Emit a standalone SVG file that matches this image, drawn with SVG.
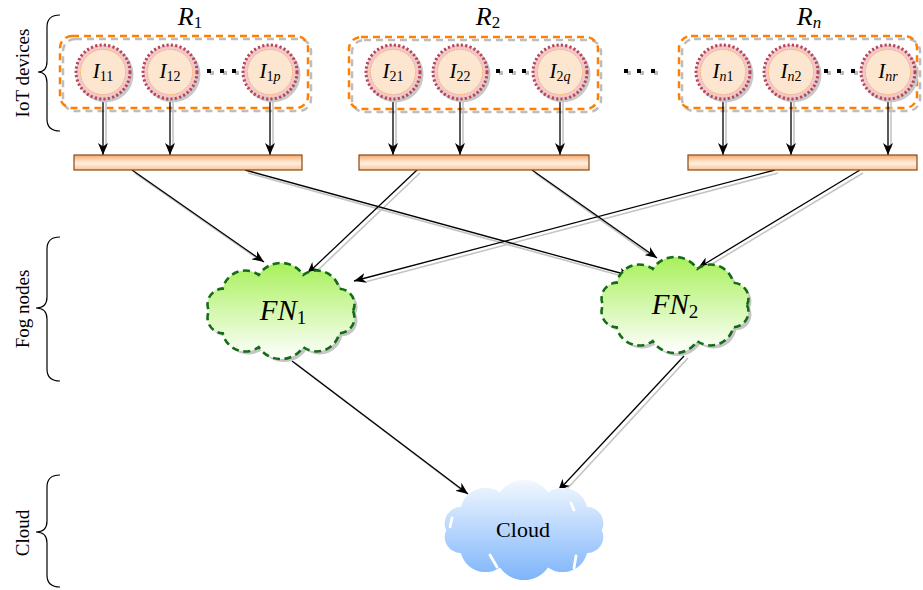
<svg xmlns="http://www.w3.org/2000/svg" xmlns:xlink="http://www.w3.org/1999/xlink" width="923" height="590" viewBox="0 0 923 590">
<defs>
<style>
.lab{font-family:"Liberation Serif","Times New Roman",serif;fill:#000}
.mi{font-style:italic}
.grp{fill:none;stroke:#ff8000;stroke-width:2.5;stroke-dasharray:7 5}
.grps{fill:none;stroke:#bdbdbd;stroke-width:2.5;stroke-dasharray:7 5}
.cout{fill:#f5c6c6;stroke:#b5455a;stroke-width:3;stroke-dasharray:2.2 2.2}
.csh{fill:#c8c8c8}
.cin{fill:#fde6cf;stroke:#e6a030;stroke-width:0.8;stroke-dasharray:1 1.3}
.bar{fill:url(#barg);stroke:#8b4a14;stroke-width:1.2}
.ln{stroke:#000;stroke-width:1.3;fill:none;marker-end:url(#arr)}
.sh{stroke:#c4c4c4;stroke-width:1.6;fill:none}
.fog{fill:url(#fogg);stroke:#156c15;stroke-width:2.6;stroke-dasharray:7 4.5}
.fogs{fill:#c6c6c6}
.br{fill:none;stroke:#000;stroke-width:1.2}
.dot{fill:#000}
.dsh{fill:#bdbdbd}
.gap{stroke:#fff;stroke-width:2.8;fill:none;stroke-linecap:round}
.il{font-size:21px}
.sub{font-size:14px}
</style>
<linearGradient id="barg" x1="0" y1="0" x2="0" y2="1">
<stop offset="0" stop-color="#f8aa6c"/>
<stop offset="0.55" stop-color="#fff0e2"/>
<stop offset="1" stop-color="#fbc294"/>
</linearGradient>
<linearGradient id="fogg" x1="0" y1="0" x2="0" y2="1">
<stop offset="0" stop-color="#a8f05a"/>
<stop offset="1" stop-color="#ffffff"/>
</linearGradient>
<linearGradient id="cloudg" x1="0" y1="0" x2="0" y2="1">
<stop offset="0" stop-color="#f2f8ff"/>
<stop offset="1" stop-color="#7db4fa"/>
</linearGradient>
<marker id="arr" markerUnits="userSpaceOnUse" markerWidth="13" markerHeight="10" refX="12" refY="5" orient="auto">
<path d="M0,0 L12,5 L0,10 L3.5,5 Z" fill="#000"/>
</marker>
<path id="cl" d="M72,0 A15.7,15.7 0 0 1 58.25,22.34 A23.1,23.1 0 0 1 22.25,36.14 A26.7,26.7 0 0 1 -22.25,36.14 A23.1,23.1 0 0 1 -58.25,22.34 A15.7,15.7 0 0 1 -72,0 A15.7,15.7 0 0 1 -58.25,-22.34 A23.1,23.1 0 0 1 -22.25,-36.14 A26.7,26.7 0 0 1 22.25,-36.14 A23.1,23.1 0 0 1 58.25,-22.34 A15.7,15.7 0 0 1 72,0 Z"/>
</defs>
<rect width="923" height="590" fill="#fff"/>

<!-- side labels -->
<g id="side-labels">
<path class="br" d="M60,15 Q47,15 47,27 L47,61 Q47,72 38,72 Q47,72 47,83 L47,119 Q47,131 60,131"/>
<text class="lab" font-size="19" transform="translate(29,73) rotate(-90)" text-anchor="middle">IoT devices</text>
<path class="br" d="M60,237 Q47,237 47,249 L47,297 Q47,308 36,308 Q47,308 47,319 L47,369 Q47,381 60,381"/>
<text class="lab" font-size="19" transform="translate(29,309) rotate(-90)" text-anchor="middle">Fog nodes</text>
<path class="br" d="M60,475 Q47,475 47,487 L47,521 Q47,532 36,532 Q47,532 47,543 L47,575 Q47,587 60,587"/>
<text class="lab" font-size="19" transform="translate(29,533) rotate(-90)" text-anchor="middle">Cloud</text>
</g>

<!-- region groups -->
<g id="R1">
<text class="lab" font-size="26" x="190" y="25" text-anchor="middle"><tspan class="mi">R</tspan><tspan font-size="17" dy="3">1</tspan></text>
<rect class="grps" x="63" y="39" width="248" height="72" rx="12"/>
<rect class="grp" x="60" y="36" width="248" height="72" rx="12"/>
</g>
<g id="R2">
<text class="lab" font-size="26" x="488" y="25" text-anchor="middle"><tspan class="mi">R</tspan><tspan font-size="17" dy="3">2</tspan></text>
<rect class="grps" x="352" y="40" width="249" height="72" rx="12"/>
<rect class="grp" x="349" y="37" width="249" height="72" rx="12"/>
</g>
<g id="Rn">
<text class="lab" font-size="26" x="809" y="25" text-anchor="middle"><tspan class="mi">R</tspan><tspan font-size="17" dy="3" class="mi">n</tspan></text>
<rect class="grps" x="682" y="39" width="238" height="72" rx="12"/>
<rect class="grp" x="679" y="36" width="238" height="72" rx="12"/>
</g>

<!-- ellipsis dots -->
<g id="dots">
<rect class="dsh" x="210" y="71" width="4" height="4"/><rect class="dsh" x="223" y="71" width="4" height="4"/><rect class="dsh" x="235" y="71" width="4" height="4"/>
<rect class="dot" x="207" y="69" width="4" height="4"/><rect class="dot" x="220" y="69" width="4" height="4"/><rect class="dot" x="232" y="69" width="4" height="4"/>
<rect class="dsh" x="499" y="71" width="4" height="4"/><rect class="dsh" x="512" y="71" width="4" height="4"/><rect class="dsh" x="525" y="71" width="4" height="4"/>
<rect class="dot" x="496" y="69" width="4" height="4"/><rect class="dot" x="509" y="69" width="4" height="4"/><rect class="dot" x="522" y="69" width="4" height="4"/>
<rect class="dsh" x="627" y="71" width="4" height="4"/><rect class="dsh" x="640" y="71" width="4" height="4"/><rect class="dsh" x="654" y="71" width="4" height="4"/>
<rect class="dot" x="624" y="69" width="4" height="4"/><rect class="dot" x="637" y="69" width="4" height="4"/><rect class="dot" x="651" y="69" width="4" height="4"/>
<rect class="dsh" x="827" y="71" width="4" height="4"/><rect class="dsh" x="840" y="71" width="4" height="4"/><rect class="dsh" x="854" y="71" width="4" height="4"/>
<rect class="dot" x="824" y="69" width="4" height="4"/><rect class="dot" x="837" y="69" width="4" height="4"/><rect class="dot" x="851" y="69" width="4" height="4"/>
</g>

<!-- connectors -->
<g id="connectors">
<line class="sh" x1="106" y1="100" x2="106" y2="148"/>
<line class="sh" x1="173" y1="100" x2="173" y2="148"/>
<line class="sh" x1="273" y1="100" x2="273" y2="148"/>
<line class="sh" x1="396" y1="100" x2="396" y2="148"/>
<line class="sh" x1="463" y1="100" x2="463" y2="148"/>
<line class="sh" x1="563" y1="100" x2="563" y2="148"/>
<line class="sh" x1="726" y1="100" x2="726" y2="148"/>
<line class="sh" x1="794" y1="100" x2="794" y2="148"/>
<line class="sh" x1="891" y1="100" x2="891" y2="148"/>
<line class="ln" x1="103" y1="99" x2="103" y2="155"/>
<line class="ln" x1="170" y1="99" x2="170" y2="155"/>
<line class="ln" x1="270" y1="99" x2="270" y2="155"/>
<line class="ln" x1="393" y1="99" x2="393" y2="155"/>
<line class="ln" x1="460" y1="99" x2="460" y2="155"/>
<line class="ln" x1="560" y1="99" x2="560" y2="155"/>
<line class="ln" x1="723" y1="99" x2="723" y2="155"/>
<line class="ln" x1="791" y1="99" x2="791" y2="155"/>
<line class="ln" x1="888" y1="99" x2="888" y2="155"/>

<line class="sh" x1="135" y1="173" x2="258" y2="259"/>
<line class="sh" x1="248" y1="173" x2="622" y2="276"/>
<line class="sh" x1="420" y1="173" x2="317" y2="271"/>
<line class="sh" x1="535" y1="173" x2="651" y2="256"/>
<line class="sh" x1="778" y1="173" x2="365" y2="282"/>
<line class="sh" x1="863" y1="173" x2="707" y2="267"/>
<line class="sh" x1="295" y1="363" x2="462" y2="490"/>
<line class="sh" x1="688" y1="358" x2="566" y2="490"/>

<line class="ln" x1="132" y1="170" x2="264" y2="262"/>
<line class="ln" x1="245" y1="170" x2="631" y2="276"/>
<line class="ln" x1="417" y1="170" x2="307" y2="274"/>
<line class="ln" x1="532" y1="170" x2="657" y2="258"/>
<line class="ln" x1="775" y1="170" x2="354" y2="281"/>
<line class="ln" x1="860" y1="170" x2="698" y2="268"/>
<line class="ln" x1="292" y1="361" x2="468" y2="494"/>
<line class="ln" x1="684" y1="356" x2="558" y2="491"/>
</g>

<!-- IoT device nodes -->
<g id="I11"><circle class="csh" cx="105.5" cy="74.5" r="28"/><circle class="cout" cx="103" cy="72" r="27"/><circle class="cin" cx="103" cy="72" r="22.5"/><text class="lab il" x="103" y="78" text-anchor="middle"><tspan class="mi">I</tspan><tspan class="sub" dy="3">11</tspan></text></g>
<g id="I12"><circle class="csh" cx="172.5" cy="74.5" r="28"/><circle class="cout" cx="170" cy="72" r="27"/><circle class="cin" cx="170" cy="72" r="22.5"/><text class="lab il" x="170" y="78" text-anchor="middle"><tspan class="mi">I</tspan><tspan class="sub" dy="3">12</tspan></text></g>
<g id="I1p"><circle class="csh" cx="272.5" cy="74.5" r="28"/><circle class="cout" cx="270" cy="72" r="27"/><circle class="cin" cx="270" cy="72" r="22.5"/><text class="lab il" x="270" y="78" text-anchor="middle"><tspan class="mi">I</tspan><tspan class="sub" dy="3">1</tspan><tspan class="sub mi">p</tspan></text></g>
<g id="I21"><circle class="csh" cx="395.5" cy="74.5" r="28"/><circle class="cout" cx="393" cy="72" r="27"/><circle class="cin" cx="393" cy="72" r="22.5"/><text class="lab il" x="393" y="78" text-anchor="middle"><tspan class="mi">I</tspan><tspan class="sub" dy="3">21</tspan></text></g>
<g id="I22"><circle class="csh" cx="462.5" cy="74.5" r="28"/><circle class="cout" cx="460" cy="72" r="27"/><circle class="cin" cx="460" cy="72" r="22.5"/><text class="lab il" x="460" y="78" text-anchor="middle"><tspan class="mi">I</tspan><tspan class="sub" dy="3">22</tspan></text></g>
<g id="I2q"><circle class="csh" cx="562.5" cy="74.5" r="28"/><circle class="cout" cx="560" cy="72" r="27"/><circle class="cin" cx="560" cy="72" r="22.5"/><text class="lab il" x="560" y="78" text-anchor="middle"><tspan class="mi">I</tspan><tspan class="sub" dy="3">2</tspan><tspan class="sub mi">q</tspan></text></g>
<g id="In1"><circle class="csh" cx="725.5" cy="74.5" r="28"/><circle class="cout" cx="723" cy="72" r="27"/><circle class="cin" cx="723" cy="72" r="22.5"/><text class="lab il" x="723" y="78" text-anchor="middle"><tspan class="mi">I</tspan><tspan class="sub mi" dy="3">n</tspan><tspan class="sub">1</tspan></text></g>
<g id="In2"><circle class="csh" cx="793.5" cy="74.5" r="28"/><circle class="cout" cx="791" cy="72" r="27"/><circle class="cin" cx="791" cy="72" r="22.5"/><text class="lab il" x="791" y="78" text-anchor="middle"><tspan class="mi">I</tspan><tspan class="sub mi" dy="3">n</tspan><tspan class="sub">2</tspan></text></g>
<g id="Inr"><circle class="csh" cx="890.5" cy="74.5" r="28"/><circle class="cout" cx="888" cy="72" r="27"/><circle class="cin" cx="888" cy="72" r="22.5"/><text class="lab il" x="888" y="78" text-anchor="middle"><tspan class="mi">I</tspan><tspan class="sub mi" dy="3">nr</tspan></text></g>

<!-- bars -->
<g id="bar1"><rect class="bar" x="74" y="155" width="228" height="15"/></g>
<g id="bar2"><rect class="bar" x="359" y="155" width="230" height="15"/></g>
<g id="barn"><rect class="bar" x="688" y="155" width="229" height="15"/></g>

<!-- fog nodes -->
<g id="FN1">
<use xlink:href="#cl" href="#cl" class="fogs" transform="translate(284,314)"/>
<use xlink:href="#cl" href="#cl" class="fog" transform="translate(281,311)"/>
<text class="lab" font-size="29" x="283" y="320" text-anchor="middle"><tspan class="mi">FN</tspan><tspan font-size="19" dy="4">1</tspan></text>
</g>
<g id="FN2">
<use xlink:href="#cl" href="#cl" class="fogs" transform="translate(678,308)"/>
<use xlink:href="#cl" href="#cl" class="fog" transform="translate(675,305)"/>
<text class="lab" font-size="29" x="675" y="314" text-anchor="middle"><tspan class="mi">FN</tspan><tspan font-size="19" dy="4">2</tspan></text>
</g>

<!-- cloud -->
<g id="Cloud">
<use xlink:href="#cl" href="#cl" fill="url(#cloudg)" transform="translate(524,530) scale(1.08,1.04)"/>
<path class="gap" d="M452,518 L450,527"/>
<path class="gap" d="M571,503 L574,510"/>
<path class="gap" d="M490,555 L497,567"/>
<path class="gap" d="M576,556 L574,568"/>
<text class="lab" font-size="22" x="523" y="537" text-anchor="middle">Cloud</text>
</g>
</svg>
